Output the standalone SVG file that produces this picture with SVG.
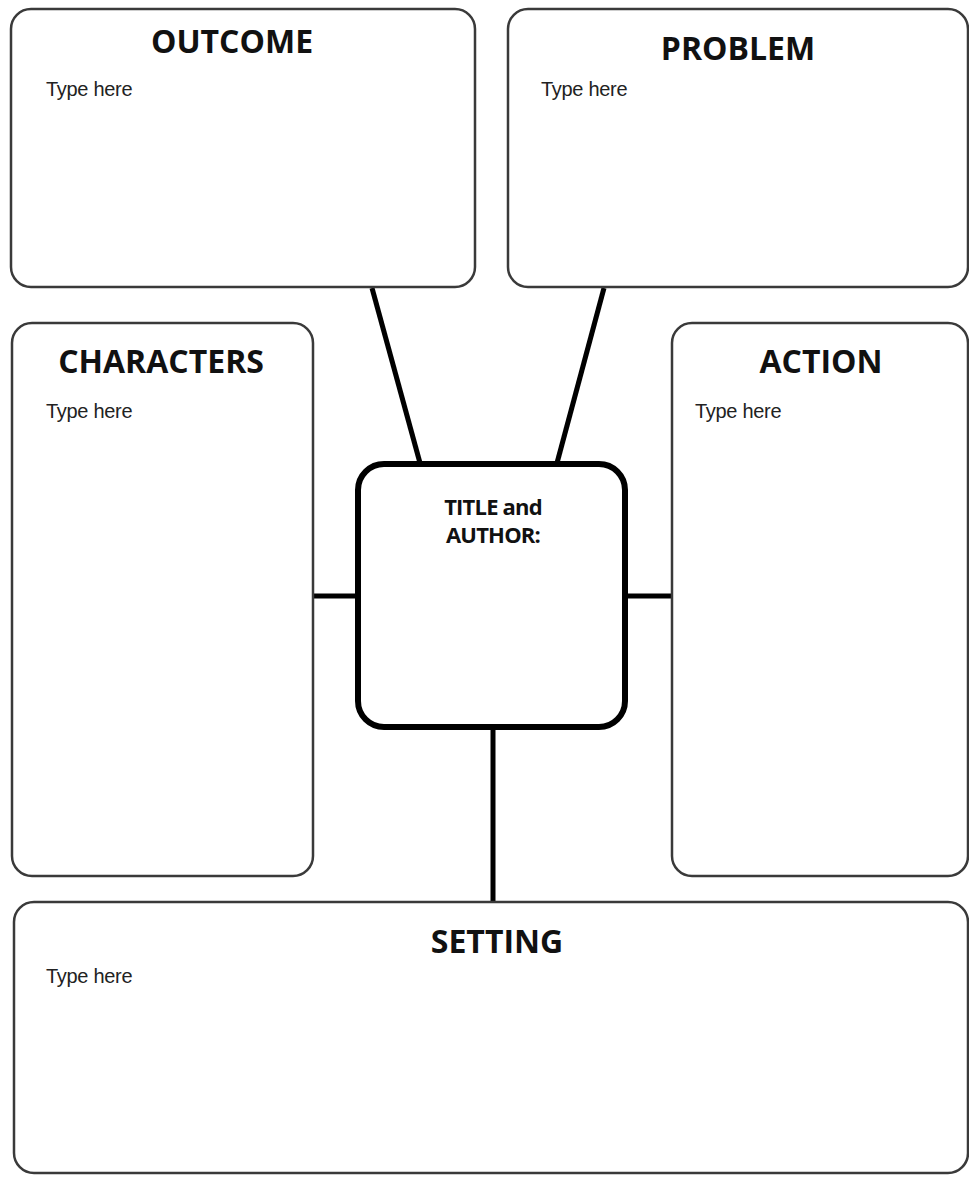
<svg xmlns="http://www.w3.org/2000/svg" width="969" height="1180" viewBox="0 0 969 1180">
<style>
.box{fill:#fff;stroke:#3a3a3a;stroke-width:2.5}
.center{fill:#fff;stroke:#000;stroke-width:6}
.conn{stroke:#000;stroke-width:5;fill:none}
.title{font-family:"Open Sans","DejaVu Sans",sans-serif;font-weight:bold;font-size:32px;fill:#111;text-anchor:middle}
.hint{font-family:"Liberation Sans",Arial,sans-serif;font-size:20px;fill:#222;letter-spacing:-0.3px}
.ta{font-family:"Open Sans","DejaVu Sans",sans-serif;font-weight:bold;font-size:22px;fill:#111;text-anchor:middle;letter-spacing:-0.8px}
</style>
<rect width="969" height="1180" fill="#fff"/>
<g id="connectors">
<line class="conn" x1="372" y1="288" x2="420" y2="463"/>
<line class="conn" x1="604" y1="288" x2="557" y2="463"/>
<line class="conn" x1="313" y1="596" x2="358" y2="596"/>
<line class="conn" x1="625" y1="596" x2="671" y2="596"/>
<line class="conn" x1="493" y1="727" x2="493" y2="902"/>
</g>
<g id="outcome">
<rect class="box" x="11" y="9" width="464" height="278" rx="20"/>
<text class="title" x="232" y="53">OUTCOME</text>
<text class="hint" x="46" y="96">Type here</text>
</g>
<g id="problem">
<rect class="box" x="508" y="9" width="460" height="278" rx="20"/>
<text class="title" x="738" y="60">PROBLEM</text>
<text class="hint" x="541" y="96">Type here</text>
</g>
<g id="characters">
<rect class="box" x="12" y="323" width="301" height="553" rx="20"/>
<text class="title" x="161" y="373">CHARACTERS</text>
<text class="hint" x="46" y="418">Type here</text>
</g>
<g id="action">
<rect class="box" x="672" y="323" width="296" height="553" rx="20"/>
<text class="title" x="821" y="373">ACTION</text>
<text class="hint" x="695" y="418">Type here</text>
</g>
<g id="title-author">
<rect class="center" x="358" y="464" width="267" height="263" rx="26"/>
<text class="ta" x="493" y="515">TITLE and</text>
<text class="ta" x="493" y="543">AUTHOR:</text>
</g>
<g id="setting">
<rect class="box" x="14" y="902" width="954" height="271" rx="20"/>
<text class="title" x="497" y="953">SETTING</text>
<text class="hint" x="46" y="983">Type here</text>
</g>
</svg>
